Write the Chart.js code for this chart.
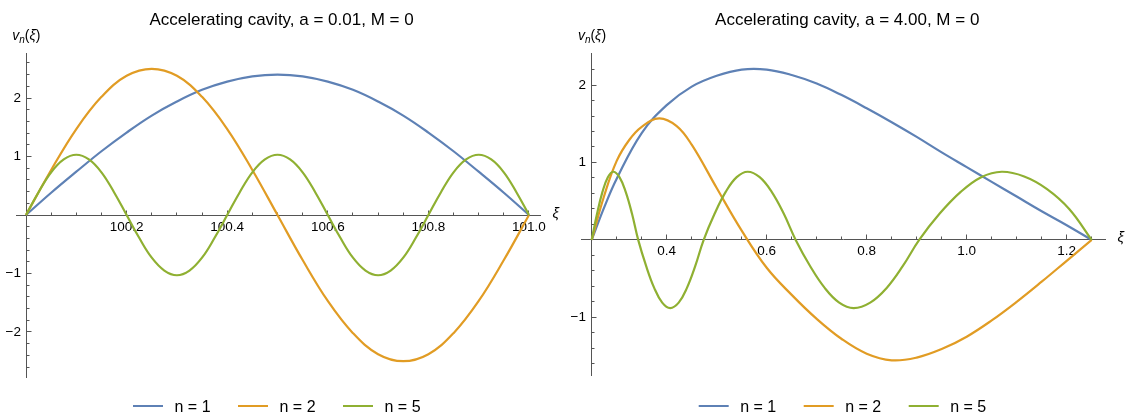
<!DOCTYPE html>
<html>
<head>
<meta charset="utf-8">
<title>Accelerating cavity modes</title>
<script src="https://cdn.jsdelivr.net/npm/chart.js@4.4.1/dist/chart.umd.min.js"></script>
<style>
  html, body { margin: 0; padding: 0; background: #fff; }
  .row { display: flex; width: 1127px; height: 414px; }
  canvas { display: block; }
</style>
</head>
<body>
<div class="row">
  <canvas id="leftChart" width="563" height="414"></canvas>
  <canvas id="rightChart" width="564" height="414"></canvas>
</div>
<script>
// --- Mode profiles v_n(xi), a = 0.01 ---
const leftXi = [100.00, 100.05, 100.10, 100.15, 100.20, 100.25, 100.30, 100.35, 100.40, 100.45,
                100.50, 100.55, 100.60, 100.65, 100.70, 100.75, 100.80, 100.85, 100.90, 100.95, 101.00];
const leftN1 = [0, 0.38, 0.74, 1.09, 1.41, 1.70, 1.94, 2.14, 2.28, 2.37,
                2.40, 2.37, 2.28, 2.14, 1.94, 1.70, 1.41, 1.09, 0.74, 0.38, 0];
const leftN2 = [0, 0.77, 1.47, 2.02, 2.38, 2.50, 2.38, 2.02, 1.47, 0.77,
                0, -0.77, -1.47, -2.02, -2.38, -2.50, -2.38, -2.02, -1.47, -0.77, 0];
const leftXiFine = [100.000, 100.025, 100.050, 100.075, 100.100, 100.125, 100.150, 100.175, 100.200, 100.225,
                    100.250, 100.275, 100.300, 100.325, 100.350, 100.375, 100.400, 100.425, 100.450, 100.475,
                    100.500, 100.525, 100.550, 100.575, 100.600, 100.625, 100.650, 100.675, 100.700, 100.725,
                    100.750, 100.775, 100.800, 100.825, 100.850, 100.875, 100.900, 100.925, 100.950, 100.975, 101.000];
const leftN5 = [0, 0.39, 0.73, 0.95, 1.03, 0.95, 0.73, 0.39, 0, -0.39,
                -0.73, -0.95, -1.03, -0.95, -0.73, -0.39, 0, 0.39, 0.73, 0.95,
                1.03, 0.95, 0.73, 0.39, 0, -0.39, -0.73, -0.95, -1.03, -0.95,
                -0.73, -0.39, 0, 0.39, 0.73, 0.95, 1.03, 0.95, 0.73, 0.39, 0];
const leftXLabels = [100.2, 100.4, 100.6, 100.8, 101.0];
const leftYLabels = [-2, -1, 1, 2];

// --- Mode profiles v_n(xi), a = 4.00 ---
const rightXi1 = [0.25, 0.275, 0.30, 0.35, 0.40, 0.45, 0.50, 0.55, 0.60, 0.65,
                  0.70, 0.75, 0.80, 0.85, 0.90, 0.95, 1.00, 1.05, 1.10, 1.15, 1.20, 1.25];
const rightN1 = [0, 0.42, 0.79, 1.38, 1.74, 1.98, 2.12, 2.20, 2.20, 2.13,
                 2.02, 1.87, 1.70, 1.52, 1.33, 1.13, 0.94, 0.75, 0.56, 0.37, 0.19, 0];
const rightXi2 = [0.25, 0.275, 0.30, 0.325, 0.35, 0.385, 0.42, 0.45, 0.50, 0.55, 0.60, 0.65,
                  0.70, 0.75, 0.80, 0.85, 0.90, 0.95, 1.00, 1.05, 1.10, 1.15, 1.20, 1.25];
const rightN2 = [0, 0.57, 1.02, 1.29, 1.46, 1.57, 1.47, 1.23, 0.67, 0.12, -0.36, -0.71,
                 -1.02, -1.28, -1.47, -1.555, -1.52, -1.41, -1.25, -1.04, -0.80, -0.54, -0.27, 0];
const rightXi5 = [0.25, 0.2608, 0.2715, 0.2823, 0.293, 0.3055, 0.318, 0.3305, 0.343,
                  0.359, 0.375, 0.391, 0.407, 0.424, 0.4405, 0.457, 0.474,
                  0.496, 0.518, 0.540, 0.562, 0.586, 0.610, 0.634, 0.658,
                  0.687, 0.716, 0.745, 0.774, 0.807, 0.840, 0.872, 0.905,
                  0.946, 0.988, 1.029, 1.070, 1.115, 1.160, 1.205, 1.25];
const rightN5 = [0, 0.34, 0.62, 0.81, 0.88, 0.81, 0.62, 0.34, 0,
                 -0.34, -0.62, -0.81, -0.88, -0.81, -0.62, -0.34, 0,
                 0.34, 0.62, 0.81, 0.88, 0.81, 0.62, 0.34, 0,
                 -0.34, -0.62, -0.81, -0.88, -0.81, -0.62, -0.34, 0,
                 0.34, 0.62, 0.81, 0.88, 0.82, 0.66, 0.40, 0];
const rightXLabels = [0.4, 0.6, 0.8, 1.0, 1.2];
const rightYLabels = [-1, 1, 2];

const seriesLabels = ['n = 1', 'n = 2', 'n = 5'];
const seriesColors = ['#5E81B5', '#E19C24', '#8FB032'];

const axisColor = '#555555';
const family = '"Liberation Sans", Arial, sans-serif';

const near = (v, list) => list.some(l => Math.abs(l - v) < 1e-6);
const align = p => Math.round(p - 0.5) + 0.5;
const fmtY = v => (v < 0 ? '\u2212' + (-v) : String(v));

// Mathematica-style decorations: inward ticks, tick labels, axis labels, title, legend
const cavityDecor = {
  id: 'cavityDecor',
  beforeDatasetsDraw(chart, args, opts) {
    const { ctx, scales: { x, y } } = chart;
    const bx = align(x.getPixelForValue(opts.originX));
    const by = align(y.getPixelForValue(0));
    ctx.save();
    ctx.strokeStyle = axisColor;
    ctx.lineWidth = 1;
    ctx.beginPath();
    const nx = Math.round((opts.xEnd - opts.originX) / opts.xStep);
    for (let k = 1; k <= nx; k++) {
      const v = opts.originX + k * opts.xStep;
      const px = align(x.getPixelForValue(v));
      ctx.moveTo(px, by);
      ctx.lineTo(px, by - (near(v, opts.xLabels) ? 5 : 3));
    }
    const ny = Math.round((opts.yTo - opts.yFrom) / opts.yStep);
    for (let k = 0; k <= ny; k++) {
      const v = opts.yFrom + k * opts.yStep;
      if (Math.abs(v) < 1e-6) continue;
      const py = align(y.getPixelForValue(v));
      ctx.moveTo(bx, py);
      ctx.lineTo(bx + (near(v, opts.yLabels) ? 5 : 3), py);
    }
    ctx.stroke();

    // tick labels
    ctx.fillStyle = '#000';
    ctx.font = '13.5px ' + family;
    ctx.textAlign = 'center';
    ctx.textBaseline = 'alphabetic';
    opts.xLabels.forEach(v => ctx.fillText(v.toFixed(1), x.getPixelForValue(v), by + 15.2));
    ctx.textAlign = 'right';
    ctx.textBaseline = 'middle';
    opts.yLabels.forEach(v => ctx.fillText(fmtY(v), bx - 5.5, y.getPixelForValue(v)));
    ctx.restore();
  },
  afterDraw(chart, args, opts) {
    const { ctx, scales: { x, y } } = chart;
    const ox = x.getPixelForValue(opts.originX);
    const oy = y.getPixelForValue(0);
    ctx.save();
    ctx.fillStyle = '#000';
    ctx.textBaseline = 'alphabetic';

    // title
    ctx.textAlign = 'center';
    ctx.font = '17px ' + family;
    ctx.fillText(opts.title, ox + 255.5, 25);

    // y axis label v_n(xi)
    ctx.textAlign = 'left';
    let cx = ox - 13.8;
    const part = (txt, font, dy) => {
      ctx.font = font;
      ctx.fillText(txt, cx, 40 + dy);
      cx += ctx.measureText(txt).width;
    };
    part('v', 'italic 14px ' + family, 0);
    part('n', 'italic 10px ' + family, 2.5);
    part('(', '14px ' + family, 0);
    part('\u03BE', 'italic 14px ' + family, 0);
    part(')', '14px ' + family, 0);

    // x axis label
    ctx.font = 'italic 14.5px ' + family;
    ctx.fillText('\u03BE', x.right + 12.5, oy + 2.5);

    // legend
    const start = ox + 254.5 - 147.5;
    ctx.font = '16px ' + family;
    chart.data.datasets.forEach((ds, i) => {
      const lx = start + i * 105;
      ctx.strokeStyle = ds.borderColor;
      ctx.lineWidth = 2;
      ctx.beginPath();
      ctx.moveTo(lx, 406);
      ctx.lineTo(lx + 30, 406);
      ctx.stroke();
      ctx.fillText(ds.label, lx + 41.5, 411.5);
    });
    ctx.restore();
  }
};

const pts = (xs, ys) => xs.map((v, i) => ({ x: v, y: ys[i] }));
const series = (i, xs, ys) => ({
  label: seriesLabels[i],
  data: pts(xs, ys),
  borderColor: seriesColors[i],
  borderWidth: 2.2,
  pointRadius: 0,
  fill: false,
  tension: 0.4,
  order: 2 - i
});

function buildChart(id, sets, view) {
  return new Chart(document.getElementById(id), {
    type: 'line',
    data: { datasets: sets },
    options: {
      responsive: false,
      animation: false,
      devicePixelRatio: 1,
      events: [],
      layout: { autoPadding: false, padding: view.padding },
      plugins: {
        legend: { display: false },
        title: { display: false },
        tooltip: { enabled: false },
        cavityDecor: view.decor
      },
      scales: {
        x: {
          type: 'linear', min: view.xMin, max: view.xMax,
          position: { y: 0 },
          grid: { display: false, drawTicks: false },
          border: { color: axisColor, width: 1 },
          ticks: { display: false }
        },
        y: {
          type: 'linear', min: view.yMin, max: view.yMax,
          position: { x: view.decor.originX },
          grid: { display: false, drawTicks: false },
          border: { color: axisColor, width: 1 },
          ticks: { display: false }
        }
      }
    },
    plugins: [cavityDecor]
  });
}

buildChart('leftChart', [
  series(0, leftXi, leftN1),
  series(1, leftXi, leftN2),
  series(2, leftXiFine, leftN5)
], {
  padding: { left: 16, right: 23, top: 53, bottom: 37 },
  xMin: 99.9801, xMax: 101.0219, yMin: -2.77, yMax: 2.77,
  decor: {
    title: 'Accelerating cavity, a = 0.01, M = 0',
    originX: 100, xEnd: 101, xStep: 0.05, xLabels: leftXLabels,
    yFrom: -2.6, yTo: 2.6, yStep: 0.2, yLabels: leftYLabels
  }
});

buildChart('rightChart', [
  series(0, rightXi1, rightN1),
  series(1, rightXi2, rightN2),
  series(2, rightXi5, rightN5)
], {
  padding: { left: 18.7, right: 22, top: 53.3, bottom: 38.3 },
  xMin: 0.23, xMax: 1.2766, yMin: -1.754, yMax: 2.41,
  decor: {
    title: 'Accelerating cavity, a = 4.00, M = 0',
    originX: 0.25, xEnd: 1.25, xStep: 0.05, xLabels: rightXLabels,
    yFrom: -1.6, yTo: 2.2, yStep: 0.2, yLabels: rightYLabels
  }
});
</script>
</body>
</html>
